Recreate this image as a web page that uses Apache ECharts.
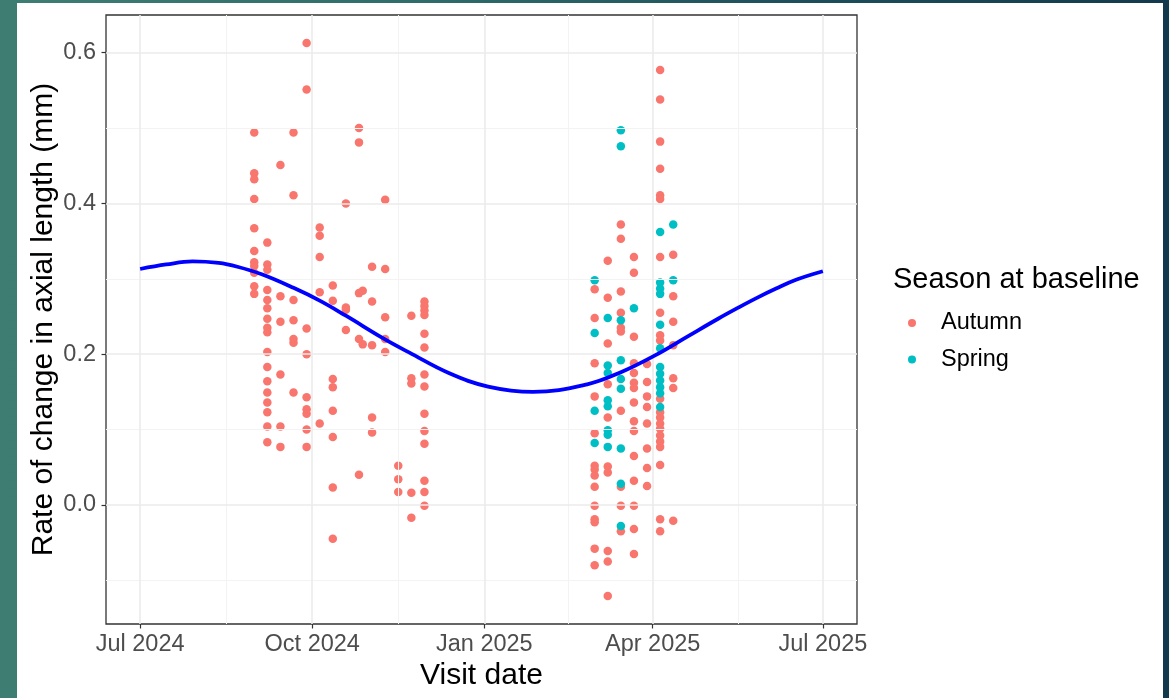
<!DOCTYPE html>
<html><head><meta charset="utf-8">
<script src="https://cdn.jsdelivr.net/npm/echarts@6.0.0/dist/echarts.min.js"></script>
<style>
html,body{margin:0;padding:0;width:1169px;height:698px;overflow:hidden;}
body{background:linear-gradient(to right,#3e7e72 0%,#2f6d6b 35%,#1d4d5a 70%,#133a4c 100%);}
#panel{position:absolute;left:17px;top:3px;width:1146px;height:695px;background:#fff;}
#chart{position:absolute;left:0;top:0;width:1169px;height:698px;}
</style></head><body>
<div id="panel"></div><div id="chart"></div>
<script>
// ---------- data ----------
const visitDates = [
  '2024-08-31','2024-09-07','2024-09-14','2024-09-21','2024-09-28','2024-10-05','2024-10-12',
  '2024-10-19','2024-10-26','2024-10-28','2024-11-02','2024-11-09','2024-11-16','2024-11-23','2024-11-30',
  '2025-03-01','2025-03-08','2025-03-15','2025-03-22','2025-03-29','2025-04-05','2025-04-12'
];
const autumnRates = [
  [0.494,0.440,0.432,0.406,0.367,0.337,0.322,0.317,0.308,0.290,0.280],
  [0.348,0.319,0.312,0.285,0.272,0.261,0.247,0.235,0.229,0.203,0.183,0.164,0.149,0.136,0.123,0.104,0.083],
  [0.451,0.277,0.243,0.173,0.104,0.077],
  [0.494,0.411,0.272,0.245,0.220,0.215,0.149],
  [0.613,0.551,0.234,0.200,0.143,0.127,0.121,0.100,0.077],
  [0.368,0.357,0.329,0.282,0.108],
  [0.291,0.271,0.167,0.156,0.125,0.090,0.023,-0.045],
  [0.400,0.262,0.259,0.232],
  [0.500,0.481,0.281,0.220,0.040],
  [0.284,0.213],
  [0.316,0.270,0.212,0.116,0.096],
  [0.405,0.313,0.249,0.220,0.203],
  [0.052,0.034,0.017],
  [0.251,0.168,0.161,0.016,-0.017],
  [0.270,0.264,0.258,0.252,0.227,0.209,0.173,0.157,0.121,0.098,0.081,0.032,0.017,-0.001],
  [0.286,0.248,0.188,0.144,0.095,0.052,0.047,0.039,0.024,-0.001,-0.019,-0.023,-0.058,-0.080],
  [0.324,0.275,0.214,0.160,0.116,0.051,0.043,-0.061,-0.075,-0.121],
  [0.372,0.353,0.283,0.255,0.235,0.230,0.125,0.024,-0.001,-0.035],
  [0.329,0.308,0.223,0.188,0.175,0.162,0.155,0.136,0.111,0.098,0.065,0.032,-0.001,-0.032,-0.065],
  [0.187,0.163,0.144,0.130,0.108,0.075,0.049,0.025],
  [0.577,0.538,0.482,0.446,0.411,0.406,0.329,0.255,0.225,0.218,0.141,0.123,0.116,0.108,0.101,0.092,0.084,0.077,0.053,-0.019,-0.035],
  [0.332,0.277,0.243,0.212,0.168,0.155,-0.021]
];
const springRates = [
  [],[],[],[],[],[],[],[],[],[],[],[],[],[],[],
  [0.298,0.228,0.125,0.082],
  [0.248,0.185,0.175,0.139,0.131,0.099,0.093,0.077],
  [0.497,0.476,0.245,0.192,0.167,0.154,0.075,0.028,-0.028],
  [0.261],
  [],
  [0.362,0.295,0.287,0.280,0.239,0.208,0.183,0.174,0.165,0.156,0.148,0.130],
  [0.372,0.298]
];
const curveDates = [
  '2024-07-01','2024-07-15','2024-07-29','2024-08-12','2024-08-22','2024-09-04','2024-09-21','2024-10-05',
  '2024-10-19','2024-11-08','2024-11-22','2024-12-13','2025-01-03','2025-01-27','2025-02-25','2025-03-15',
  '2025-04-02','2025-04-20','2025-05-06','2025-05-17','2025-05-27','2025-06-06','2025-06-17','2025-07-01'
];
const curveRates = [
  0.313,0.319,0.323,0.321,0.316,0.306,0.288,0.271,
  0.251,0.221,0.202,0.175,0.157,0.150,0.160,0.176,
  0.198,0.224,0.247,0.262,0.275,0.287,0.299,0.310
];
const xTickDates = ['2024-07-01','2024-10-01','2025-01-01','2025-04-01','2025-07-01'];
const xTickLabels = ['Jul 2024','Oct 2024','Jan 2025','Apr 2025','Jul 2025'];
const xMinorDates = ['2024-08-16','2024-11-16','2025-02-15','2025-05-16T12'];
const yTicks = [0.0, 0.2, 0.4, 0.6];
const yTickLabels = ['0.0','0.2','0.4','0.6'];
const yMinor = [-0.1, 0.1, 0.3, 0.5];
const xRange = ['2024-06-12T18', '2025-07-19T06'];
const yRange = [-0.158, 0.650];

// ---------- helpers ----------
function ts(s) {
  const parts = s.split('T');
  const d = parts[0].split('-').map(Number);
  const h = parts[1] ? Number(parts[1]) : 0;
  return Date.UTC(d[0], d[1] - 1, d[2], h);
}
function pointsFor(rates) {
  const out = [];
  rates.forEach((vals, i) => vals.forEach(v => out.push([ts(visitDates[i]), v])));
  return out;
}
const xTickTs = xTickDates.map(ts);
const FONT = '"Liberation Sans", Arial, sans-serif';
const majorStyle = {color: '#EBEBEB', width: 1.6, type: 'solid'};
const minorStyle = {color: '#F3F3F3', width: 1, type: 'solid'};
const gridLines = []
  .concat(xMinorDates.map(d => ({xAxis: ts(d), lineStyle: minorStyle})))
  .concat(yMinor.map(v => ({yAxis: v, lineStyle: minorStyle})))
  .concat(xTickDates.map(d => ({xAxis: ts(d), lineStyle: majorStyle})))
  .concat(yTicks.map(v => ({yAxis: v, lineStyle: majorStyle})));

const chart = echarts.init(document.getElementById('chart'), null, {renderer: 'canvas'});
chart.setOption({
  animation: false,
  backgroundColor: 'transparent',
  textStyle: {fontFamily: FONT},
  grid: {left: 106, top: 15, width: 751, height: 609, show: true, z: 2,
         borderColor: '#333333', borderWidth: 1.3, backgroundColor: 'transparent'},
  title: {text: 'Season at baseline', left: 893, top: 265, padding: 0,
          textStyle: {fontSize: 29, fontWeight: 'normal', color: '#000', fontFamily: FONT}},
  legend: {data: ['Autumn', 'Spring'], orient: 'vertical', left: 908, top: 311, padding: 0,
           itemWidth: 48, itemHeight: 8, itemGap: 12.6, icon: 'circle',
           textStyle: {fontSize: 23.5, color: '#000', lineHeight: 24, fontFamily: FONT}},
  xAxis: {
    type: 'value', min: ts(xRange[0]), max: ts(xRange[1]),
    splitLine: {show: false}, minorSplitLine: {show: false},
    axisLine: {show: false, onZero: false},
    axisTick: {show: true, length: 4.5, customValues: xTickTs, lineStyle: {color: '#333', width: 1.2}},
    axisLabel: {customValues: xTickTs, color: '#4D4D4D', fontSize: 23.5, margin: 9, fontFamily: FONT,
                hideOverlap: false, showMinLabel: true, showMaxLabel: true,
                formatter: v => { const i = xTickTs.indexOf(v); return i >= 0 ? xTickLabels[i] : ''; }},
    name: 'Visit date', nameLocation: 'middle', nameGap: 37, nameMoveOverlap: false,
    nameTextStyle: {fontSize: 30, color: '#000', fontFamily: FONT}
  },
  yAxis: {
    type: 'value', min: yRange[0], max: yRange[1],
    splitLine: {show: false},
    axisLine: {show: false, onZero: false},
    axisTick: {show: true, length: 4.5, customValues: yTicks, lineStyle: {color: '#333', width: 1.2}},
    axisLabel: {customValues: yTicks, color: '#4D4D4D', fontSize: 23.5, margin: 10, fontFamily: FONT,
                formatter: v => { const i = yTicks.indexOf(v); return i >= 0 ? yTickLabels[i] : v.toFixed(1); }},
    name: 'Rate of change in axial length (mm)', nameLocation: 'middle', nameGap: 47, nameMoveOverlap: false,
    nameTextStyle: {fontSize: 30, color: '#000', fontFamily: FONT}
  },
  series: [
    {name: 'gridlines', type: 'line', data: [], z: 0, silent: true,
     markLine: {silent: true, symbol: ['none', 'none'], label: {show: false}, animation: false,
                emphasis: {disabled: true}, data: gridLines}},
    {name: 'Autumn', type: 'scatter', z: 3, symbol: 'circle', symbolSize: 8.5,
     itemStyle: {color: '#F8766D', opacity: 1}, data: pointsFor(autumnRates)},
    {name: 'Spring', type: 'scatter', z: 4, symbol: 'circle', symbolSize: 8.5,
     itemStyle: {color: '#00BFC4', opacity: 1}, data: pointsFor(springRates)},
    {name: 'fit', type: 'line', z: 5, smooth: 0.4, showSymbol: false, symbol: 'none',
     lineStyle: {color: '#0000FF', width: 3.8},
     data: curveDates.map((d, i) => [ts(d), curveRates[i]])}
  ]
});
</script></body></html>
